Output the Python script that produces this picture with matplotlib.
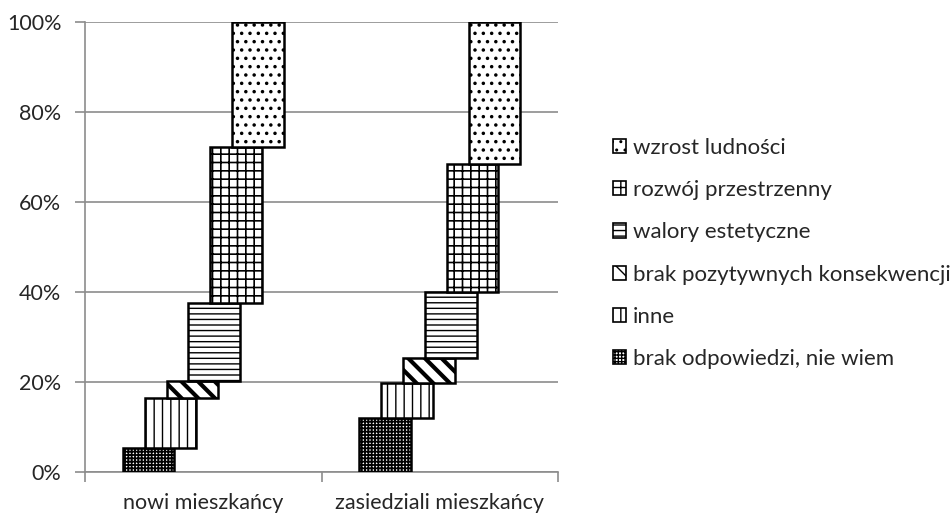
import matplotlib
matplotlib.use("Agg")
import matplotlib.pyplot as plt
from matplotlib.patches import Patch
import numpy as np

plt.rcParams['font.family'] = ['Lato', 'DejaVu Sans']
plt.rcParams['hatch.linewidth'] = 1.0

categories = ["nowi mieszkańcy", "zasiedziali mieszkańcy"]
series = ["brak odpowiedzi, nie wiem", "inne", "brak pozytywnych konsekwencji",
          "walory estetyczne", "rozwój przestrzenny", "wzrost ludności"]
brak_odpowiedzi = [5.3, 11.9]
inne = [11.2, 8.0]
brak_pozytywnych = [3.7, 5.4]
walory = [17.4, 14.8]
rozwoj = [34.7, 28.3]
wzrost = [27.7, 31.6]
values = [brak_odpowiedzi, inne, brak_pozytywnych, walory, rozwoj, wzrost]
yticks = [0, 20, 40, 60, 80, 100]
ytick_labels = ["0%", "20%", "40%", "60%", "80%", "100%"]

hatches = ["+++++", "||", "\\\\", "---", "++", ".."]
hatch_lw = [1.3, 1.0, 3.0, 1.0, 1.2, 1.3]

fig = plt.figure(figsize=(9.5, 5.14), dpi=100)
ax = fig.add_axes([0.0895, 0.0817, 0.498, 0.875])

width = 0.218
step = 0.0924
x0 = np.arange(len(categories)) + 0.5
bottom = np.zeros(len(categories))
for i, (name, vals) in enumerate(zip(series, values)):
    xs = x0 + (i - 2.5) * step
    bars = ax.bar(xs, vals, width, bottom=bottom, color="white", edgecolor="black",
                  linewidth=1.8, hatch=hatches[i], zorder=3)
    for b in bars:
        try:
            b.set_hatch_linewidth(hatch_lw[i])
        except Exception:
            pass
    bottom = bottom + np.array(vals)

fs = 15.5
ax.set_xlim(0, 2)
ax.set_ylim(0, 100)
ax.set_yticks(yticks)
ax.set_yticklabels(ytick_labels, fontsize=fs, color="#262626")
ax.yaxis.grid(True, color="#8c8c8c", linewidth=1.2, zorder=0)
ax.set_axisbelow(True)
ax.set_xticks([0, 1, 2])
ax.set_xticklabels([])
ax.set_xticks(x0, minor=True)
ax.set_xticklabels(categories, minor=True, fontsize=fs, color="#262626")
ax.tick_params(axis="x", which="minor", length=0, pad=15)
ax.tick_params(axis="x", which="major", length=7, color="#8c8c8c", width=1.2)
ax.tick_params(axis="y", length=7, color="#8c8c8c", width=1.2, pad=10)
for s in ["top", "right"]:
    ax.spines[s].set_visible(False)
for s in ["left", "bottom"]:
    ax.spines[s].set_color("#8c8c8c")
    ax.spines[s].set_linewidth(1.2)

handles = []
for i in range(len(series) - 1, -1, -1):
    p = Patch(facecolor="white", edgecolor="black", hatch=hatches[i], linewidth=1.2)
    handles.append(p)
leg = fig.legend(handles, series[::-1], loc="center left", bbox_to_anchor=(0.645, 0.507),
                 frameon=False, fontsize=16, handlelength=0.6, handleheight=0.6,
                 handletextpad=0.3, labelspacing=1.0, borderaxespad=0, borderpad=0)
for t in leg.get_texts():
    t.set_color("#262626")

fig.savefig("out.png", dpi=100)
